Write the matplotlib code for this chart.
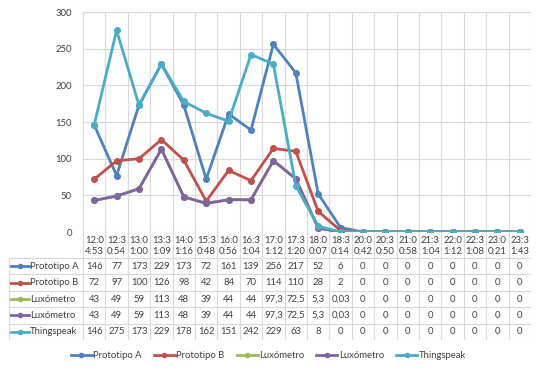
import matplotlib
matplotlib.use("Agg")
import matplotlib.pyplot as plt
from matplotlib.lines import Line2D

plt.rcParams['font.family'] = ['Lato', 'DejaVu Sans']

# datos
horas = ["12:0\n4:53", "12:3\n0:54", "13:0\n1:00", "13:3\n1:09", "14:0\n1:16",
         "15:3\n0:48", "16:0\n0:56", "16:3\n1:04", "17:0\n1:12", "17:3\n1:20",
         "18:0\n0:07", "18:3\n0:14", "20:0\n0:42", "20:3\n0:50", "21:0\n0:58",
         "21:3\n1:04", "22:0\n1:12", "22:3\n1:08", "23:0\n0:21", "23:3\n1:43"]
prototipo_a = [146, 77, 173, 229, 173, 72, 161, 139, 256, 217, 52, 6, 0, 0, 0, 0, 0, 0, 0, 0]
prototipo_b = [72, 97, 100, 126, 98, 42, 84, 70, 114, 110, 28, 2, 0, 0, 0, 0, 0, 0, 0, 0]
luxometro = [43, 49, 59, 113, 48, 39, 44, 44, 97.3, 72.5, 5.3, 0.03, 0, 0, 0, 0, 0, 0, 0, 0]
luxometro2 = [43, 49, 59, 113, 48, 39, 44, 44, 97.3, 72.5, 5.3, 0.03, 0, 0, 0, 0, 0, 0, 0, 0]
thingspeak = [146, 275, 173, 229, 178, 162, 151, 242, 229, 63, 8, 0, 0, 0, 0, 0, 0, 0, 0, 0]

nombres = ["Prototipo A", "Prototipo B", "Luxómetro", "Luxómetro", "Thingspeak"]
series = [prototipo_a, prototipo_b, luxometro, luxometro2, thingspeak]
colores = ["#4F81BD", "#C0504D", "#9BBB59", "#8064A2", "#4BACC6"]

W, H = 541, 371
gris = "#D9D9D9"
txt = "#404040"
fs = 6.8

fig = plt.figure(figsize=(W / 100, H / 100), dpi=100)

# eje principal
x0, x1, ytop, ybot = 83, 531, 12, 232
ax = fig.add_axes([x0 / W, 1 - ybot / H, (x1 - x0) / W, (ybot - ytop) / H])
xs = list(range(len(horas)))
for nom, vals, c in zip(nombres, series, colores):
    ax.plot(xs, vals, color=c, lw=2, marker="o", ms=4, label=nom)
ax.set_xlim(-0.5, len(horas) - 0.5)
ax.set_ylim(0, 300)
ax.set_yticks(range(0, 301, 50))
ax.set_xticks([])
ax.tick_params(axis="y", length=0, labelsize=fs, labelcolor=txt, pad=8)
for y in range(50, 301, 50):
    ax.axhline(y, color=gris, lw=0.8, zorder=0)
for k in range(len(horas) + 1):
    ax.axvline(k - 0.5, color=gris, lw=0.8, zorder=0)
for s in ax.spines.values():
    s.set_visible(False)
ax.axhline(0, color=gris, lw=0.8, zorder=0)

# tabla de datos
tleft, tbot = 9, 340
ppx = len(horas) / (x1 - x0)
tax = fig.add_axes([tleft / W, 1 - tbot / H, (x1 - tleft) / W, (tbot - ybot) / H])
tax.set_xlim(-0.5 - (x0 - tleft) * ppx, len(horas) - 0.5)
alto = tbot - ybot
cab = 26
fila = (alto - cab) / len(series)
tax.set_ylim(alto, 0)
tax.axis("off")
xl = -0.5 - (x0 - tleft) * ppx

# lineas de la tabla
for k in range(len(horas) + 1):
    tax.plot([k - 0.5, k - 0.5], [0, alto], color=gris, lw=0.8)
tax.plot([xl, xl], [cab, alto], color=gris, lw=0.8)
for i in range(len(series) + 1):
    tax.plot([xl, len(horas) - 0.5], [cab + i * fila] * 2, color=gris, lw=0.8)

for k, h in enumerate(horas):
    tax.text(k, cab / 2 + 1, h, ha="center", va="center", fontsize=fs,
             color=txt, linespacing=1.2)

for i, (nom, vals, c) in enumerate(zip(nombres, series, colores)):
    yc = cab + (i + 0.5) * fila
    tax.plot([xl + 2 * ppx, xl + 20 * ppx], [yc, yc], color=c, lw=2)
    tax.plot([xl + 11 * ppx], [yc], color=c, marker="o", ms=3)
    tax.text(xl + 21 * ppx, yc, nom, ha="left", va="center", fontsize=fs, color=txt)
    for k, v in enumerate(vals):
        tax.text(k, yc, f"{v:g}".replace(".", ","), ha="center", va="center",
                 fontsize=fs, color=txt)

# leyenda
manejadores = [Line2D([0], [0], color=c, lw=2, marker="o", ms=3) for c in colores]
fig.legend(manejadores, nombres, loc="center", bbox_to_anchor=(0.496, 1 - 356 / H),
           ncol=5, frameon=False, fontsize=fs, handlelength=2.2, handletextpad=0.15,
           columnspacing=1.3, labelcolor=txt)

fig.savefig("out.png", dpi=100)
